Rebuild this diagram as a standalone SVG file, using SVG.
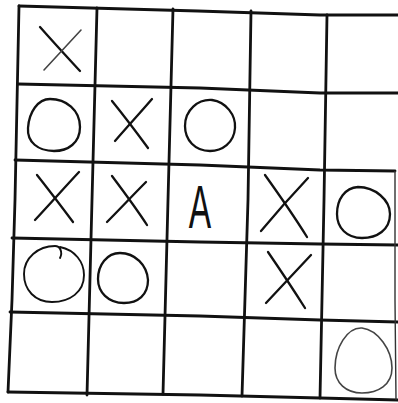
<svg xmlns="http://www.w3.org/2000/svg" width="398" height="403" viewBox="0 0 398 403">
<style>
.grid{fill:none;stroke:#111;stroke-width:2.8;stroke-linecap:round;stroke-linejoin:round}
.thin{fill:none;stroke:#333;stroke-width:1.4}
.mark{fill:none;stroke:#111;stroke-width:2.3;stroke-linecap:round;stroke-linejoin:round}
.faint{fill:none;stroke:#444;stroke-width:1.6;stroke-linecap:round}
.letter{font-family:"Liberation Sans",Arial,sans-serif;font-size:61px;fill:#111;text-anchor:middle}
</style>
<rect width="398" height="403" fill="#fff"/>
<g id="grid">
<polyline class="grid" points="19,6 198,11 320,15 398,15"/>
<polyline class="grid" points="18,84 200,88 320,93 398,93"/>
<polyline class="grid" points="15,160 200,165 320,170 395,171"/>
<polyline class="grid" points="12,238 200,242 320,244 398,245"/>
<polyline class="grid" points="10,312 200,316 320,320 398,322"/>
<polyline class="grid" points="8,392 200,395 320,398 398,400"/>
<polyline class="grid" points="19,6 15,200 12,300 8,392"/>
<polyline class="grid" points="97,8 92,200 87,395"/>
<polyline class="grid" points="173,9 168,200 163,394"/>
<polyline class="grid" points="251,11 248,200 242,396"/>
<polyline class="grid" points="327,15 324,200 320,398"/>
<polyline class="thin" points="395,171 395,300 396,400"/>
</g>
<g id="r1c1">
<path class="mark" d="M40,27 C55,44 68,58 80,71"/>
<path class="faint" d="M44,70 C57,56 69,43 81,30"/>
</g>
<g id="r2c1"><path class="mark" d="M50,99 C66,99 80,110 80,127 C80,143 68,151 54,151 C38,151 27,142 28,128 C29,112 38,99 50,99 Z"/></g>
<g id="r2c2">
<path class="mark" d="M112,101 C125,117 137,133 148,148"/>
<path class="mark" d="M115,141 C127,127 140,113 152,99"/>
</g>
<g id="r2c3"><path class="mark" d="M212,100 C226,102 236,115 235,128 C234,143 222,151 210,151 C195,151 185,140 185,126 C185,110 198,99 212,100 Z"/></g>
<g id="r3c1">
<path class="mark" d="M37,175 C49,190 61,206 73,222"/>
<path class="mark" d="M79,172 C64,188 50,204 35,220"/>
</g>
<g id="r3c2">
<path class="mark" d="M112,176 C124,192 136,208 147,225"/>
<path class="mark" d="M146,182 C133,195 120,209 107,222"/>
</g>
<g id="r3c3"><text class="letter" transform="translate(200,228) scale(0.55,1)" x="0" y="0">A</text></g>
<g id="r3c4">
<path class="mark" d="M265,175 C280,196 294,216 307,237"/>
<path class="mark" d="M308,178 C292,195 276,213 261,231"/>
</g>
<g id="r3c5"><path class="mark" d="M358,187 C375,187 390,200 390,214 C390,230 377,238 362,238 C347,238 337,228 337,214 C337,199 345,188 358,187 Z"/></g>
<g id="r4c1"><path class="mark" style="stroke-width:1.9" d="M60,258 C63,252 60,246 55,246 C38,246 24,258 24,274 C24,290 35,302 52,302 C70,302 84,292 84,275 C84,262 75,250 60,247"/></g>
<g id="r4c2"><path class="mark" d="M120,253 C135,253 147,265 148,280 C148,295 138,303 124,303 C108,303 98,292 98,279 C98,265 107,253 120,253 Z"/></g>
<g id="r4c4">
<path class="mark" d="M268,252 C281,271 293,289 305,308"/>
<path class="mark" d="M311,255 C296,271 281,287 266,303"/>
</g>
<g id="r5c5"><path class="faint" d="M362,328 C378,330 392,350 392,368 C392,385 378,393 362,393 C346,393 335,383 335,368 C335,348 347,327 362,328 Z"/></g>
</svg>
